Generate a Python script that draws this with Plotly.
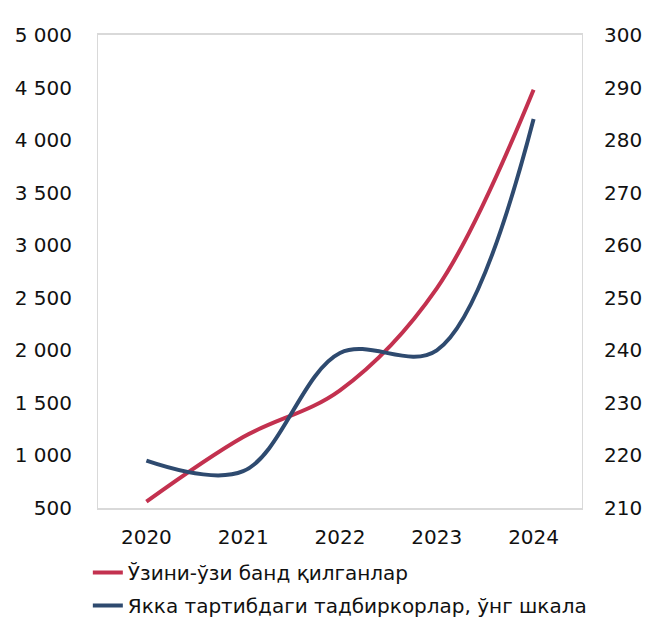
import plotly.graph_objects as go

years = ["2020", "2021", "2022", "2023", "2024"]
self_employed = [560, 1175, 1620, 2590, 4480]
entrepreneurs = [219, 217, 239.5, 240, 284]

name_red = "Ўзини-ўзи банд қилганлар"
name_blue = "Якка тартибдаги тадбиркорлар, ўнг шкала"

RED = "#C3314F"
BLUE = "#2E4A6F"
GRID = "#D9D9D9"
FONT = "DejaVu Sans, Liberation Sans, Arial, sans-serif"

fig = go.Figure()
fig.add_trace(go.Scatter(
    x=years, y=self_employed, name=name_red, mode="lines",
    line=dict(color=RED, width=4, shape="spline", smoothing=1.0),
    yaxis="y", legendgroup="a",
))
fig.add_trace(go.Scatter(
    x=years, y=entrepreneurs, name=name_blue, mode="lines",
    line=dict(color=BLUE, width=4, shape="spline", smoothing=1.0),
    yaxis="y2", legendgroup="b",
))

fig.update_layout(
    width=645, height=617,
    margin=dict(l=98, r=63, t=35, b=109, autoexpand=False),
    paper_bgcolor="white", plot_bgcolor="white",
    font=dict(family=FONT, size=20, color="#111111"),
    separators=", ",
    xaxis=dict(
        type="category", range=[-0.5, 4.5],
        showline=True, linecolor=GRID, linewidth=1.5, mirror=True,
        showgrid=False, ticks="", ticklabelstandoff=10,
        zeroline=False, automargin=False,
    ),
    yaxis=dict(
        range=[500, 5000], dtick=500, tick0=500,
        showline=True, linecolor=GRID, linewidth=1, mirror=False,
        showgrid=False, zeroline=False, ticks="",
        separatethousands=True, ticklabelstandoff=21, automargin=False,
    ),
    yaxis2=dict(
        range=[210, 300], dtick=10, tick0=210,
        overlaying="y", side="right",
        showline=True, linecolor=GRID, linewidth=1,
        showgrid=False, zeroline=False, ticks="",
        ticklabelstandoff=17, automargin=False,
    ),
    legend=dict(
        orientation="v", x=-0.021, xanchor="left", y=-0.095, yanchor="top",
        font=dict(size=20), bgcolor="rgba(0,0,0,0)",
        tracegroupgap=4, itemwidth=30,
    ),
    showlegend=True,
)

fig.write_html(
    "out.html",
    config={"displayModeBar": False},
    post_script="document.body.style.margin='0';",
)
